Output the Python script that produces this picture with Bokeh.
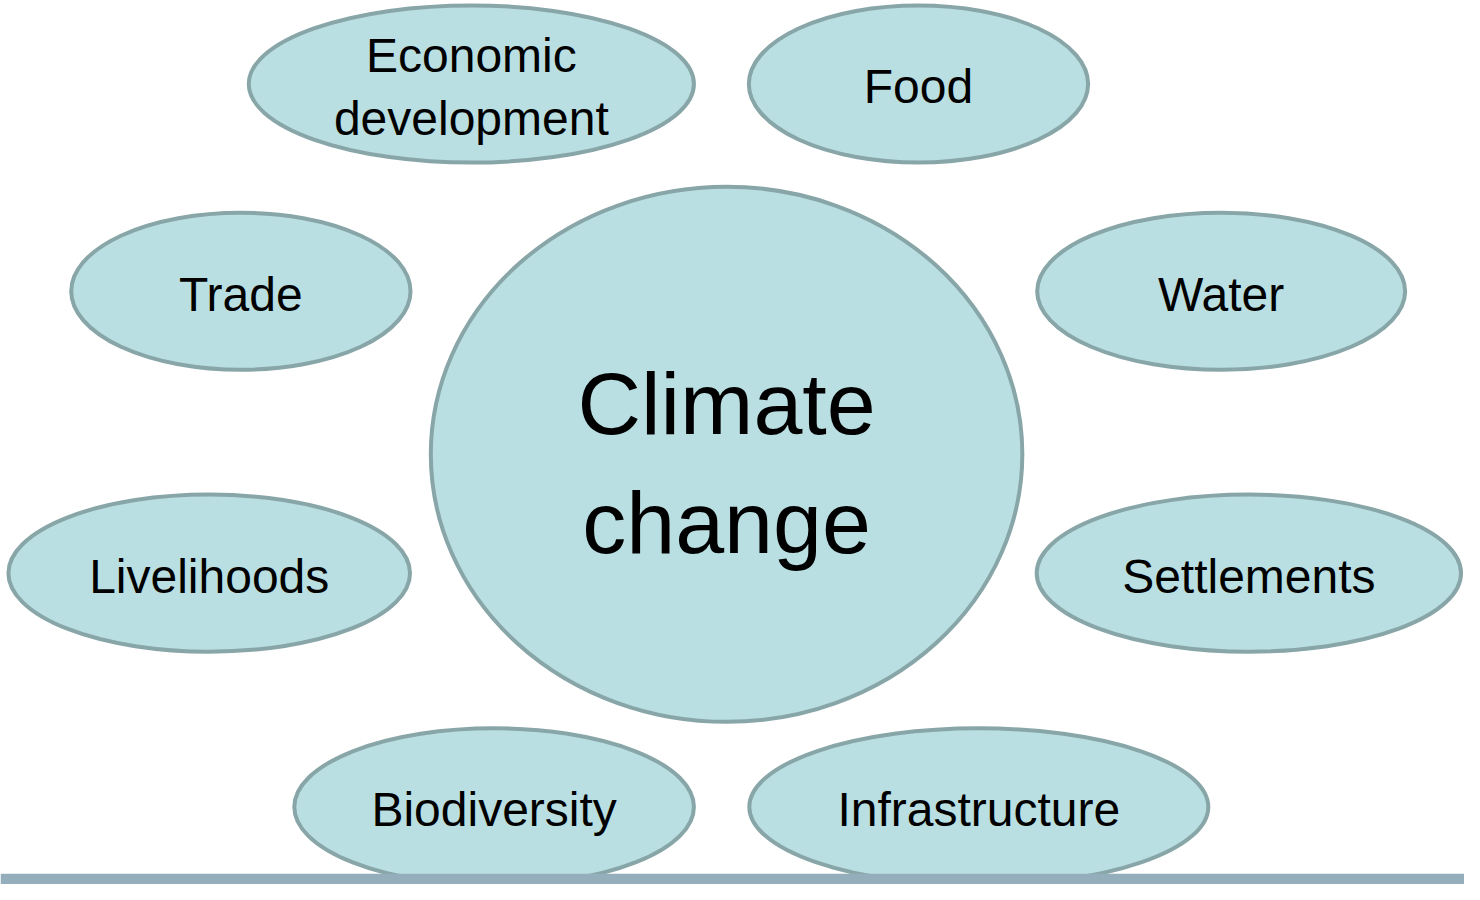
from bokeh.plotting import figure
from bokeh.models import Range1d, ColumnDataSource
from bokeh.core.properties import value
from bokeh.embed import file_html
from bokeh.resources import INLINE

# Diagram nodes (reference pixel space: x 0..1480, y 0..900 downward)
labels = ["Economic\ndevelopment", "Food", "Trade", "Water", "Livelihoods",
          "Settlements", "Biodiversity", "Infrastructure"]
cx = [476, 928, 243, 1234, 211, 1262, 499, 989]
cy = [85, 85, 296, 296, 583, 583, 821, 821]
w = [450, 343, 343, 372, 406, 429, 404, 464]
h = [160, 160, 160, 160, 160, 160, 160, 160]

center_label = ["Climate\nchange"]
center_x = [734]
center_y = [462]
center_w = [598]
center_h = [545]

FILL = "#B9DFE2"
STROKE = "#88A6A8"

p = figure(width=1464, height=884, output_backend="svg", toolbar_location=None,
           x_range=Range1d(0, 1480), y_range=Range1d(900, 0),
           min_border=0, min_border_left=0, min_border_right=0,
           min_border_top=0, min_border_bottom=0)
p.axis.visible = False
p.grid.visible = False
p.outline_line_color = None
p.background_fill_color = "white"
p.border_fill_color = "white"

src = ColumnDataSource(dict(x=cx, y=cy, w=w, h=h, t=labels))
csrc = ColumnDataSource(dict(x=center_x, y=center_y, w=center_w, h=center_h, t=center_label))

p.ellipse(x="x", y="y", width="w", height="h", source=src,
          fill_color=FILL, line_color=STROKE, line_width=4)
p.ellipse(x="x", y="y", width="w", height="h", source=csrc,
          fill_color=FILL, line_color=STROKE, line_width=4)

# bottom band
p.quad(left=[0], right=[1480], top=[889], bottom=[900],
       fill_color="#94AEBC", line_color=None)

p.text(x="x", y="y", text="t", source=src, text_align="center",
       text_baseline="middle", text_font=value("Liberation Sans"),
       text_font_size="48px", text_color="black", text_line_height=1.2,
       y_offset=3)
p.text(x="x", y="y", text="t", source=csrc, text_align="center",
       text_baseline="middle", text_font=value("Liberation Sans"),
       text_font_size="88px", text_color="black", text_line_height=1.2,
       y_offset=9)

open("out.html", "w").write(file_html(p, INLINE))
